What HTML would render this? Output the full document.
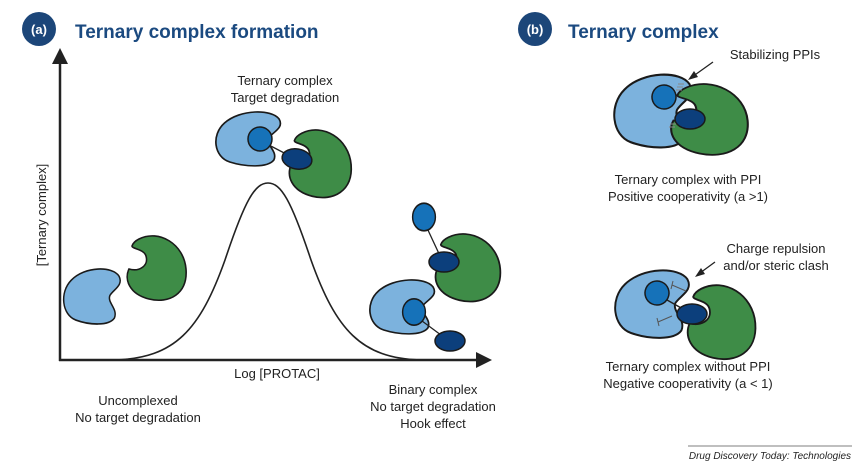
<!DOCTYPE html>
<html><head><style>
html,body{margin:0;padding:0;background:#fff;}
svg{display:block;}
text{font-family:"Liberation Sans",Arial,sans-serif;}
</style></head><body>
<svg width="864" height="464" viewBox="0 0 864 464" xmlns="http://www.w3.org/2000/svg">
<defs>
<path id="lb" d="M10,13 C25,-1 55,-1 62,9 C67,18 56,22 52,28 C49,35 61,41 57,50 C51,58 30,57 15,52 C0,47 -3,25 10,13 Z" fill="#7cb2dd" stroke="#1a1a1a" stroke-width="1.6"/>
<path id="gr" d="M15,5 C35,-5 60,10 62,35 C64,60 45,70 25,65 C5,60 0,45 5,35 C15,38 25,32 22,22 C20,15 8,15 8,12 C9,9 11,7 15,5 Z" fill="#3e8c47" stroke="#1a1a1a" stroke-width="1.6"/>
<ellipse id="mb" cx="0" cy="0" rx="12" ry="12" fill="#1672b9" stroke="#1a1a1a" stroke-width="1.5"/>
<ellipse id="db" cx="0" cy="0" rx="15" ry="10" fill="#0c3f7c" stroke="#1a1a1a" stroke-width="1.5"/>
</defs>

<circle cx="39" cy="29" r="17" fill="#1c4679"/>
<text x="39" y="34" font-size="13" font-weight="bold" fill="#fff" text-anchor="middle">(a)</text>
<text x="75" y="38" font-size="19" font-weight="bold" fill="#1b4a80">Ternary complex formation</text>

<line x1="60" y1="62" x2="60" y2="361" stroke="#222" stroke-width="2.5"/>
<polygon points="52,64 60,48 68,64" fill="#222"/>
<line x1="59" y1="360" x2="478" y2="360" stroke="#222" stroke-width="2.5"/>
<polygon points="476,352 492,360 476,368" fill="#222"/>
<text transform="translate(46,215) rotate(-90)" font-size="13" fill="#222" text-anchor="middle">[Ternary complex]</text>
<text x="277" y="378" font-size="13" fill="#222" text-anchor="middle">Log [PROTAC]</text>

<path d="M115,360 C175,358 200,330 225,260 C245,200 255,183 268,183 C281,183 291,200 311,260 C336,330 361,358 420,360" fill="none" stroke="#222" stroke-width="1.6"/>

<g transform="translate(62,267) scale(0.92,1.02)"><use href="#lb"/></g>
<g transform="translate(124,234)"><use href="#gr"/></g>

<g transform="translate(214,110) scale(1.05,1)"><use href="#lb"/></g>
<g transform="translate(286,128) scale(1.05)"><use href="#gr"/></g>
<line x1="265" y1="143" x2="290" y2="156" stroke="#222" stroke-width="1.3"/>
<g transform="translate(260,139)"><use href="#mb"/></g>
<g transform="translate(297,159) rotate(10)"><use href="#db"/></g>
<text x="285" y="85" font-size="13" fill="#222" text-anchor="middle">Ternary complex</text>
<text x="285" y="102" font-size="13" fill="#222" text-anchor="middle">Target degradation</text>

<g transform="translate(432,232) scale(1.1,1.05)"><use href="#gr"/></g>
<line x1="427" y1="228" x2="441" y2="258" stroke="#222" stroke-width="1.3"/>
<g transform="translate(424,217) scale(0.95,1.15)"><use href="#mb"/></g>
<g transform="translate(444,262)"><use href="#db"/></g>
<g transform="translate(368,278) scale(1.05,1)"><use href="#lb"/></g>
<line x1="418" y1="318" x2="445" y2="338" stroke="#222" stroke-width="1.3"/>
<g transform="translate(414,312) scale(0.95,1.1)"><use href="#mb"/></g>
<g transform="translate(450,341)"><use href="#db"/></g>

<text x="138" y="405" font-size="13" fill="#222" text-anchor="middle">Uncomplexed</text>
<text x="138" y="422" font-size="13" fill="#222" text-anchor="middle">No target degradation</text>
<text x="433" y="394" font-size="13" fill="#222" text-anchor="middle">Binary complex</text>
<text x="433" y="411" font-size="13" fill="#222" text-anchor="middle">No target degradation</text>
<text x="433" y="428" font-size="13" fill="#222" text-anchor="middle">Hook effect</text>

<circle cx="535" cy="29" r="17" fill="#1c4679"/>
<text x="535" y="34" font-size="13" font-weight="bold" fill="#fff" text-anchor="middle">(b)</text>
<text x="568" y="38" font-size="19" font-weight="bold" fill="#1b4a80">Ternary complex</text>

<text x="775" y="59" font-size="13" fill="#222" text-anchor="middle">Stabilizing PPIs</text>
<line x1="713" y1="62" x2="692" y2="77" stroke="#222" stroke-width="1.3"/>
<polygon points="688,80 694,71 698,77" fill="#222"/>
<g transform="translate(612,72) scale(1.25,1.35)"><use href="#lb"/></g>
<g transform="translate(667,82) scale(1.3,1.1)"><use href="#gr"/></g>
<g transform="translate(664,97) rotate(-20)"><use href="#mb"/></g>
<g transform="translate(690,119)"><use href="#db"/></g>
<path d="M678,84 l6,0 M677,87 l6,0 M676,90 l6,0 M670,124 l6,0 M669,127 l6,0" stroke="#888" stroke-width="1"/>
<text x="688" y="184" font-size="13" fill="#222" text-anchor="middle">Ternary complex with PPI</text>
<text x="688" y="201" font-size="13" fill="#222" text-anchor="middle">Positive cooperativity (a &gt;1)</text>

<text x="776" y="253" font-size="13" fill="#222" text-anchor="middle">Charge repulsion</text>
<text x="776" y="270" font-size="13" fill="#222" text-anchor="middle">and/or steric clash</text>
<line x1="715" y1="262" x2="700" y2="273" stroke="#222" stroke-width="1.3"/>
<polygon points="695,277 701,268 705,274" fill="#222"/>
<g transform="translate(613,268) scale(1.2,1.25)"><use href="#lb"/></g>
<g transform="translate(684,283) scale(1.15,1.15)"><use href="#gr"/></g>
<line x1="660" y1="296" x2="690" y2="313" stroke="#222" stroke-width="1.5"/>
<g transform="translate(657,293) rotate(-20)"><use href="#mb"/></g>
<g transform="translate(692,314)"><use href="#db"/></g>
<path d="M672,285 l14,6 M673,281 l-2,8 M658,322 l14,-6 M657,318 l2,8" stroke="#555" stroke-width="1"/>
<text x="688" y="371" font-size="13" fill="#222" text-anchor="middle">Ternary complex without PPI</text>
<text x="688" y="388" font-size="13" fill="#222" text-anchor="middle">Negative cooperativity (a &lt; 1)</text>

<line x1="688" y1="446" x2="852" y2="446" stroke="#555" stroke-width="0.8"/>
<text x="851" y="459" font-size="10" font-style="italic" fill="#222" text-anchor="end">Drug Discovery Today: Technologies</text>
</svg>
</body></html>
